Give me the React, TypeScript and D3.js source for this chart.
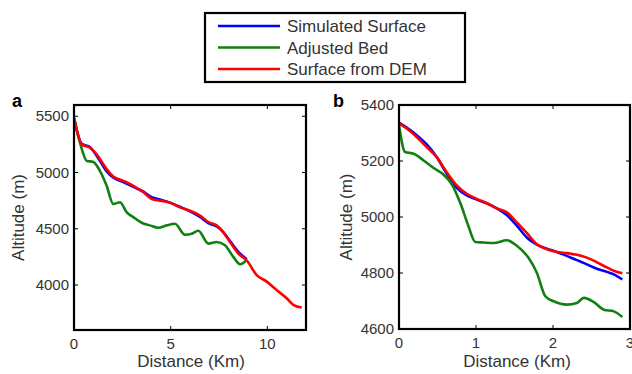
import React from "react";
import * as d3 from "d3";

// ---- Panel a data (Distance km, Altitude m) ----
const aSimX = [0, 0.4, 0.83, 1.17, 1.69, 2.03, 2.55, 3.07, 3.59, 4.02, 4.45, 5.0, 5.48, 6.0, 6.52, 6.95, 7.38, 7.72, 8.07, 8.5, 8.93];
const aSimY = [5485, 5255, 5225, 5150, 5010, 4955, 4915, 4872, 4830, 4780, 4760, 4730, 4695, 4655, 4605, 4550, 4520, 4470, 4390, 4295, 4230];
const aBedX = [0, 0.31, 0.66, 1.0, 1.34, 1.69, 2.03, 2.38, 2.72, 3.07, 3.5, 3.93, 4.36, 4.79, 5.22, 5.74, 6.09, 6.43, 6.95, 7.38, 7.81, 8.24, 8.59, 8.93];
const aBedY = [5485, 5265, 5103, 5094, 5015, 4882, 4720, 4735, 4647, 4603, 4553, 4530, 4509, 4530, 4544, 4447, 4456, 4482, 4368, 4382, 4353, 4250, 4185, 4220];
const aDemX = [0, 0.4, 0.83, 1.17, 1.69, 2.03, 2.55, 3.07, 3.59, 4.02, 4.45, 5.0, 5.48, 6.0, 6.52, 6.95, 7.38, 7.72, 8.07, 8.5, 8.93, 9.45, 9.97, 10.48, 11.0, 11.34, 11.78];
const aDemY = [5485, 5250, 5220, 5162, 5030, 4965, 4926, 4882, 4824, 4765, 4750, 4730, 4690, 4660, 4618, 4560, 4530, 4470, 4382, 4280, 4220, 4088, 4030, 3956, 3882, 3824, 3800];

// ---- Panel b data ----
const bSimX = [0, 0.1, 0.23, 0.36, 0.49, 0.62, 0.75, 0.88, 1.01, 1.14, 1.27, 1.4, 1.53, 1.66, 1.79, 1.92, 2.05, 2.18, 2.31, 2.44, 2.57, 2.7, 2.79, 2.9];
const bSimY = [5337, 5319, 5292, 5259, 5214, 5154, 5104, 5077, 5062, 5049, 5031, 5007, 4969, 4927, 4901, 4887, 4875, 4861, 4846, 4831, 4815, 4804, 4795, 4777];
const bBedX = [0, 0.08, 0.19, 0.32, 0.45, 0.58, 0.69, 0.8, 0.9, 0.99, 1.1, 1.23, 1.4, 1.53, 1.68, 1.79, 1.9, 2.01, 2.18, 2.31, 2.4, 2.53, 2.66, 2.79, 2.9];
const bBedY = [5328, 5232, 5226, 5202, 5175, 5151, 5115, 5047, 4969, 4911, 4909, 4907, 4917, 4897, 4855, 4801, 4717, 4699, 4687, 4693, 4711, 4696, 4669, 4663, 4643];
const bDemX = [0, 0.1, 0.23, 0.36, 0.49, 0.62, 0.75, 0.88, 1.01, 1.14, 1.27, 1.4, 1.53, 1.66, 1.79, 1.92, 2.05, 2.18, 2.31, 2.44, 2.57, 2.7, 2.79, 2.9];
const bDemY = [5334, 5316, 5286, 5250, 5214, 5160, 5113, 5083, 5065, 5049, 5031, 5017, 4981, 4943, 4903, 4885, 4875, 4871, 4865, 4855, 4838, 4820, 4808, 4799];

const aXTicks = [0, 5, 10];
const aYTicks = [4000, 4500, 5000, 5500];
const bXTicks = [0, 1, 2, 3];
const bYTicks = [4600, 4800, 5000, 5200, 5400];

const legendLabels = ["Simulated Surface", "Adjusted Bed", "Surface from DEM"];
const seriesColors = ["#0000ff", "#108010", "#ff0000"];

const FONT = "'Liberation Sans', Arial, sans-serif";
const TXT = "#333";

type Series = { xs: number[]; ys: number[]; color: string };

function Panel(props: {
  left: number; right: number; top: number; bottom: number;
  xDomain: [number, number]; yDomain: [number, number];
  xTicks: number[]; yTicks: number[]; series: Series[];
  letter: string; letterX: number; yLabelX: number; xLabelX: number;
}) {
  const { left, right, top, bottom, xDomain, yDomain, xTicks, yTicks, series } = props;
  const x = d3.scaleLinear().domain(xDomain).range([left, right]);
  const y = d3.scaleLinear().domain(yDomain).range([bottom, top]);
  const clipId = "clip" + props.letter;
  return (
    <g>
      <defs>
        <clipPath id={clipId}>
          <rect x={left} y={top} width={right - left} height={bottom - top} />
        </clipPath>
      </defs>
      <g clipPath={`url(#${clipId})`}>
        {series.map((s, i) => {
          const pts: [number, number][] = s.xs.map((v, k) => [v, s.ys[k]]);
          const line = d3.line<[number, number]>()
            .x((d) => x(d[0]))
            .y((d) => y(d[1]))
            .curve(d3.curveMonotoneX);
          return <path key={i} d={line(pts) || ""} fill="none" stroke={s.color} strokeWidth={2.6} strokeLinejoin="round" />;
        })}
      </g>
      {xTicks.map((t) => (
        <g key={"xt" + t}>
          <line x1={x(t)} x2={x(t)} y1={bottom} y2={bottom - 4} stroke="#000" strokeWidth={1} />
          <line x1={x(t)} x2={x(t)} y1={top} y2={top + 4} stroke="#000" strokeWidth={1} />
          <text x={x(t)} y={bottom + 19} textAnchor="middle" fontSize={15} fill={TXT} fontFamily={FONT}>{t}</text>
        </g>
      ))}
      {yTicks.map((t) => (
        <g key={"yt" + t}>
          <line x1={left} x2={left + 4} y1={y(t)} y2={y(t)} stroke="#000" strokeWidth={1} />
          <line x1={right} x2={right - 4} y1={y(t)} y2={y(t)} stroke="#000" strokeWidth={1} />
          <text x={left - 5} y={y(t) + 5} textAnchor="end" fontSize={15} fill={TXT} fontFamily={FONT}>{t}</text>
        </g>
      ))}
      <rect x={left} y={top} width={right - left} height={bottom - top} fill="none" stroke="#000" strokeWidth={2.2} />
      <text x={props.xLabelX} y={367} textAnchor="middle" fontSize={17} fill={TXT} fontFamily={FONT}>Distance (Km)</text>
      <text transform={`translate(${props.yLabelX},${(top + bottom) / 2}) rotate(-90)`} textAnchor="middle" fontSize={17} fill={TXT} fontFamily={FONT}>Altitude (m)</text>
      <text x={props.letterX} y={107} fontSize={18} fontWeight="bold" fill="#000" fontFamily={FONT}>{props.letter}</text>
    </g>
  );
}

export default function App() {
  const aSeries: Series[] = [
    { xs: aSimX, ys: aSimY, color: seriesColors[0] },
    { xs: aBedX, ys: aBedY, color: seriesColors[1] },
    { xs: aDemX, ys: aDemY, color: seriesColors[2] },
  ];
  const bSeries: Series[] = [
    { xs: bSimX, ys: bSimY, color: seriesColors[0] },
    { xs: bBedX, ys: bBedY, color: seriesColors[1] },
    { xs: bDemX, ys: bDemY, color: seriesColors[2] },
  ];
  const legendY = d3.scalePoint<string>().domain(legendLabels).range([26, 69]);
  return (
    <svg width={632} height={374} style={{ position: "absolute", left: 0, top: 0, background: "#fff" }}>
      <rect x={0} y={0} width={632} height={374} fill="#fff" />
      <rect x={205} y={13} width={260} height={69} fill="#fff" stroke="#000" strokeWidth={2.2} />
      {legendLabels.map((lab, i) => (
        <g key={lab}>
          <line x1={218} x2={280} y1={legendY(lab)} y2={legendY(lab)} stroke={seriesColors[i]} strokeWidth={2.6} />
          <text x={287} y={(legendY(lab) || 0) + 6} fontSize={17} fill={TXT} fontFamily={FONT}>{lab}</text>
        </g>
      ))}
      <Panel left={74} right={306} top={105} bottom={330} xDomain={[0, 12]} yDomain={[3600, 5600]}
        xTicks={aXTicks} yTicks={aYTicks} series={aSeries} letter="a" letterX={12} yLabelX={24} xLabelX={191} />
      <Panel left={399} right={630} top={105} bottom={329} xDomain={[0, 3]} yDomain={[4600, 5400]}
        xTicks={bXTicks} yTicks={bYTicks} series={bSeries} letter="b" letterX={333} yLabelX={352} xLabelX={517} />
    </svg>
  );
}
